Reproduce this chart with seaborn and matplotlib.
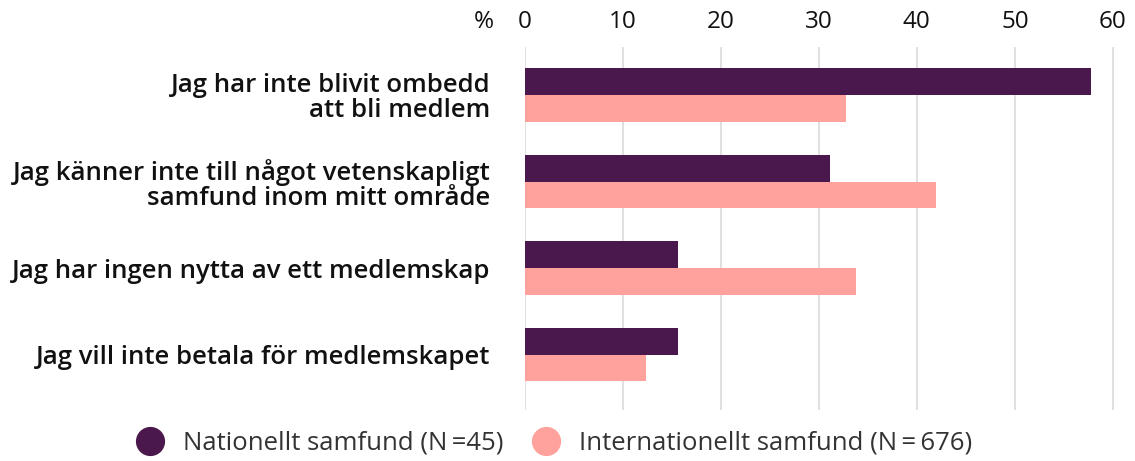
import pandas as pd
import numpy as np
import matplotlib
matplotlib.use('Agg')
import matplotlib.pyplot as plt
import seaborn as sns
from matplotlib.lines import Line2D

sns.set_theme(style='white')
plt.rcParams['font.family'] = ['Open Sans', 'DejaVu Sans']

# data
categories = ['Jag har inte blivit ombedd\natt bli medlem',
              'Jag känner inte till något vetenskapligt\nsamfund inom mitt område',
              'Jag har ingen nytta av ett medlemskap',
              'Jag vill inte betala för medlemskapet']
nationellt = [57.8, 31.1, 15.6, 15.6]
internationellt = [32.8, 42.0, 33.8, 12.3]
series = ['Nationellt samfund (N\u2009=45)', 'Internationellt samfund (N\u2009=\u2009676)']
colors = ['#4A184C', '#FFA19C']
xticks = [0, 10, 20, 30, 40, 50, 60]

df = pd.DataFrame({
    'kat': categories * 2,
    'serie': [series[0]] * 4 + [series[1]] * 4,
    'varde': nationellt + internationellt,
})

fig = plt.figure(figsize=(11.35, 4.61), dpi=100)
ax = fig.add_axes([0.4626, 0.1106, 0.5204, 0.7874])

sns.barplot(data=df, y='kat', x='varde', hue='serie', palette=colors,
            width=0.62, orient='h', ax=ax, legend=False, saturation=1,
            linewidth=0)

ax.set_xlim(0, 60.3)
ax.set_ylim(3.64, -0.555)
ax.set_xticks(xticks)
ax.xaxis.tick_top()
ax.tick_params(axis='x', length=0, pad=9.5, labelsize=17.5, colors='#111111')
ax.tick_params(axis='y', length=0, pad=25)
for lab in ax.get_yticklabels():
    lab.set_fontsize(18.5)
    lab.set_fontweight('semibold')
    lab.set_color('#111111')
    lab.set_linespacing(1.0)
ax.set_xlabel('')
ax.set_ylabel('')
ax.grid(axis='x', color='#dddddd', linewidth=1.3)
ax.set_axisbelow(True)
for s in ax.spines.values():
    s.set_visible(False)

fig.text(484 / 1135, 1 - 22 / 461, '%', fontsize=17.5, color='#111111',
         ha='center', va='center')

handles = [Line2D([], [], marker='o', linestyle='', markersize=20,
                  markerfacecolor=c, markeredgecolor=c) for c in colors]
fig.legend(handles, series, loc='center', bbox_to_anchor=(0.483, 1 - 443 / 461),
           ncol=2, frameon=False, fontsize=18.5, handletextpad=0.3,
           columnspacing=0.63, labelcolor='#333333')

fig.savefig('out.png', dpi=100)
